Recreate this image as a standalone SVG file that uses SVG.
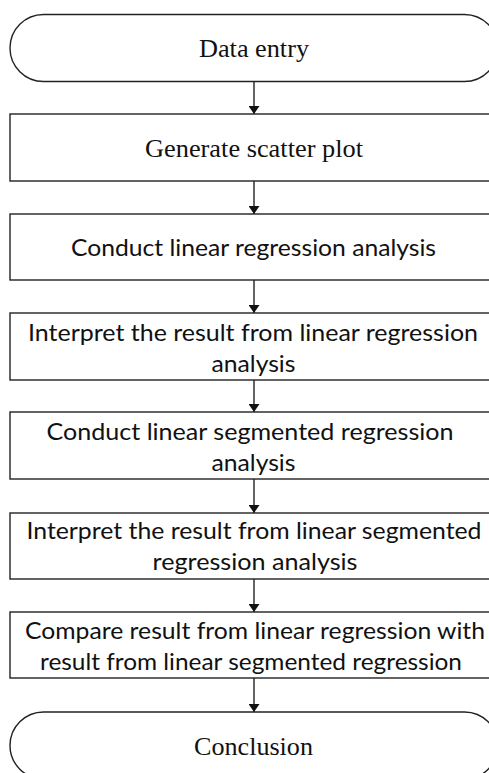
<svg xmlns="http://www.w3.org/2000/svg" width="489" height="773" viewBox="0 0 489 773">
<defs>
<style>
.shape{fill:#fff;stroke:#222;stroke-width:1.4}
.serif{font-family:"Liberation Serif","Times New Roman",serif;font-size:25px;fill:#111;text-anchor:middle}
.sans{font-family:Lato,"Open Sans","Liberation Sans",sans-serif;font-size:23px;fill:#111;text-anchor:middle}
.conn{stroke:#222;stroke-width:1.4;fill:none}
</style>
<marker id="ah" markerWidth="8" markerHeight="11" refX="8" refY="5.5" orient="auto" markerUnits="userSpaceOnUse" viewBox="0 0 8 11">
<path d="M0,0 L8,5.5 L0,11 Z" fill="#111"/>
</marker>
</defs>
<g id="connectors">
<line class="conn" x1="254" y1="81.5" x2="254" y2="114" marker-end="url(#ah)"/>
<line class="conn" x1="254" y1="181" x2="254" y2="214" marker-end="url(#ah)"/>
<line class="conn" x1="254" y1="280" x2="254" y2="313" marker-end="url(#ah)"/>
<line class="conn" x1="254" y1="380" x2="254" y2="412" marker-end="url(#ah)"/>
<line class="conn" x1="254" y1="479" x2="254" y2="513" marker-end="url(#ah)"/>
<line class="conn" x1="254" y1="579" x2="254" y2="612" marker-end="url(#ah)"/>
<line class="conn" x1="254" y1="678" x2="254" y2="712" marker-end="url(#ah)"/>
</g>
<g id="n1">
<rect class="shape" x="10" y="14.5" width="488" height="67" rx="33.5" ry="33.5"/>
<text class="serif" x="254" y="57" textLength="110" lengthAdjust="spacingAndGlyphs">Data entry</text>
</g>
<g id="n2">
<rect class="shape" x="10" y="114" width="488" height="67"/>
<text class="serif" x="254" y="156.5" textLength="218" lengthAdjust="spacingAndGlyphs">Generate scatter plot</text>
</g>
<g id="n3">
<rect class="shape" x="10" y="214" width="488" height="66"/>
<text class="sans" x="253.5" y="256" textLength="365" lengthAdjust="spacingAndGlyphs">Conduct linear regression analysis</text>
</g>
<g id="n4">
<rect class="shape" x="10" y="313" width="488" height="67"/>
<text class="sans" x="253" y="340.5" textLength="450" lengthAdjust="spacingAndGlyphs">Interpret the result from linear regression</text>
<text class="sans" x="253.5" y="371.5" textLength="84" lengthAdjust="spacingAndGlyphs">analysis</text>
</g>
<g id="n5">
<rect class="shape" x="10" y="412" width="488" height="67"/>
<text class="sans" x="250" y="439.5" textLength="407" lengthAdjust="spacingAndGlyphs">Conduct linear segmented regression</text>
<text class="sans" x="253.5" y="470.5" textLength="84" lengthAdjust="spacingAndGlyphs">analysis</text>
</g>
<g id="n6">
<rect class="shape" x="10" y="513" width="488" height="66"/>
<text class="sans" x="254" y="539" textLength="455" lengthAdjust="spacingAndGlyphs">Interpret the result from linear segmented</text>
<text class="sans" x="255" y="570" textLength="205" lengthAdjust="spacingAndGlyphs">regression analysis</text>
</g>
<g id="n7">
<rect class="shape" x="10" y="612" width="488" height="66"/>
<text class="sans" x="255" y="639" textLength="460" lengthAdjust="spacingAndGlyphs">Compare result from linear regression with</text>
<text class="sans" x="251" y="670" textLength="422" lengthAdjust="spacingAndGlyphs">result from linear segmented regression</text>
</g>
<g id="n8">
<rect class="shape" x="10" y="712" width="488" height="67" rx="33.5" ry="33.5"/>
<text class="serif" x="253.5" y="755" textLength="119" lengthAdjust="spacingAndGlyphs">Conclusion</text>
</g>
</svg>
